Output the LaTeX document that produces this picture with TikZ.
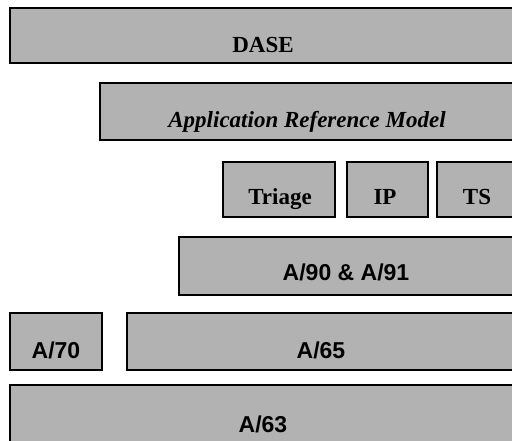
\documentclass[tikz,border=0pt]{standalone}
\usepackage{fontspec}
\setmainfont{Liberation Serif}
\setsansfont{Liberation Sans}
\definecolor{boxgray}{HTML}{B2B2B2}
\tikzset{
  box/.style={draw=black, line width=2.6pt, fill=boxgray, inner sep=0pt, outer sep=0pt, anchor=north west},
  serlab/.style={font=\fontsize{23}{26}\selectfont\bfseries, anchor=base, inner sep=0pt},
  itlab/.style={font=\fontsize{23}{26}\selectfont\bfseries\itshape, anchor=base, inner sep=0pt},
  sanslab/.style={font=\fontsize{23}{26}\selectfont\sffamily\bfseries, anchor=base, inner sep=0pt}
}
\begin{document}
\begin{tikzpicture}[x=1pt,y=-1pt]
\useasboundingbox (0,0) rectangle (512,441);
\clip (0,0) rectangle (512,441);
% boxes
\node[box, minimum width=512pt, minimum height=55pt] (dase) at (10,8) {};
\node[box, minimum width=422pt, minimum height=57pt] (arm) at (100,83) {};
\node[box, minimum width=112pt, minimum height=55pt] (triage) at (223,162) {};
\node[box, minimum width=81pt, minimum height=55pt] (ip) at (347,162) {};
\node[box, minimum width=85pt, minimum height=55pt] (ts) at (437,162) {};
\node[box, minimum width=343pt, minimum height=58pt] (a90) at (179,237) {};
\node[box, minimum width=92pt, minimum height=57pt] (a70) at (10,313) {};
\node[box, minimum width=395pt, minimum height=57pt] (a65) at (127,313) {};
\node[box, minimum width=512pt, minimum height=70pt] (a63) at (10,385) {};
% labels
\node[serlab] (tdase) at (263,53) {DASE};
\node[itlab] (tarm) at (307,128) {Application Reference Model};
\node[serlab] (ttriage) at (280,205) {Triage};
\node[serlab] (tip) at (385,205) {IP};
\node[serlab] (tts) at (477,205) {TS};
\node[sanslab] (ta90) at (346,280) {A/90 \& A/91};
\node[sanslab] (ta70) at (56,358) {A/70};
\node[sanslab] (ta65) at (321,358) {A/65};
\node[sanslab] (ta63) at (263,432) {A/63};
\end{tikzpicture}
\end{document}
